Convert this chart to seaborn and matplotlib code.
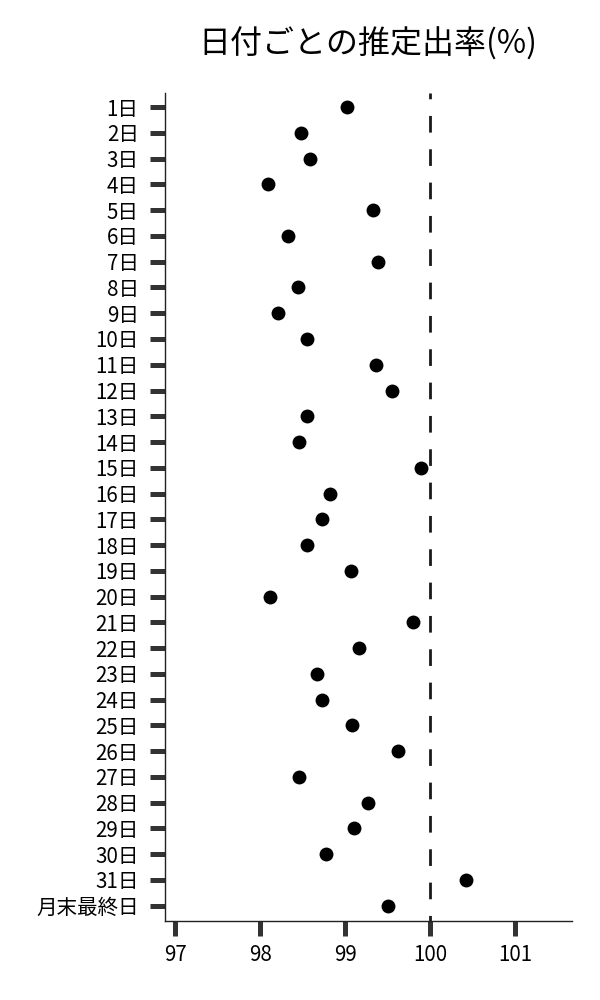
import pandas as pd
import numpy as np
import seaborn as sns
import matplotlib.pyplot as plt

sns.set_theme(style="ticks")
plt.rcParams['font.family'] = ['Noto Sans CJK JP', 'DejaVu Sans']

# 日付ラベルと推定出率
days = [f'{i}日' for i in range(1, 32)] + ['月末最終日']
rates = [99.02, 98.48, 98.59, 98.09, 99.33, 98.33, 99.39, 98.45, 98.21, 98.55,
         99.37, 99.55, 98.55, 98.46, 99.90, 98.82, 98.73, 98.55, 99.07, 98.12,
         99.80, 99.16, 98.67, 98.73, 99.08, 99.62, 98.46, 99.27, 99.11, 98.77,
         100.42, 99.50]
ref_value = 100
xticks = [97, 98, 99, 100, 101]

df = pd.DataFrame({'day': days, 'rate': rates})

fig = plt.figure(figsize=(6, 10), dpi=100)
ax = fig.add_axes([0.275, 0.0793, 0.678, 0.828])

sns.stripplot(data=df, x='rate', y='day', order=days, jitter=False,
              color='black', size=10, ax=ax)
# 基準線 (100%)
ax.axvline(ref_value, color='#1a1a1a', linestyle=(4, (6, 6)), linewidth=2.0, zorder=0)

ax.set_xlim(96.88, 101.67)
ax.set_ylim(31.58, -0.56)
ax.set_xticks(xticks)
ax.set_xticklabels([str(x) for x in xticks])
ax.set_xlabel('')
ax.set_ylabel('')
ax.tick_params(axis='both', length=11, width=3.6, color='#333333', labelsize=14.8,
               labelcolor='black')
ax.tick_params(axis='y', pad=8)
ax.tick_params(axis='x', pad=6)
for side in ['left', 'bottom']:
    ax.spines[side].set_linewidth(1.0)
    ax.spines[side].set_color('#222222')
sns.despine(ax=ax)

fig.text(0.6125, 0.956, '日付ごとの推定出率(%)', fontsize=23, ha='center', va='center',
         color='black')

fig.savefig('out.png', dpi=100)
